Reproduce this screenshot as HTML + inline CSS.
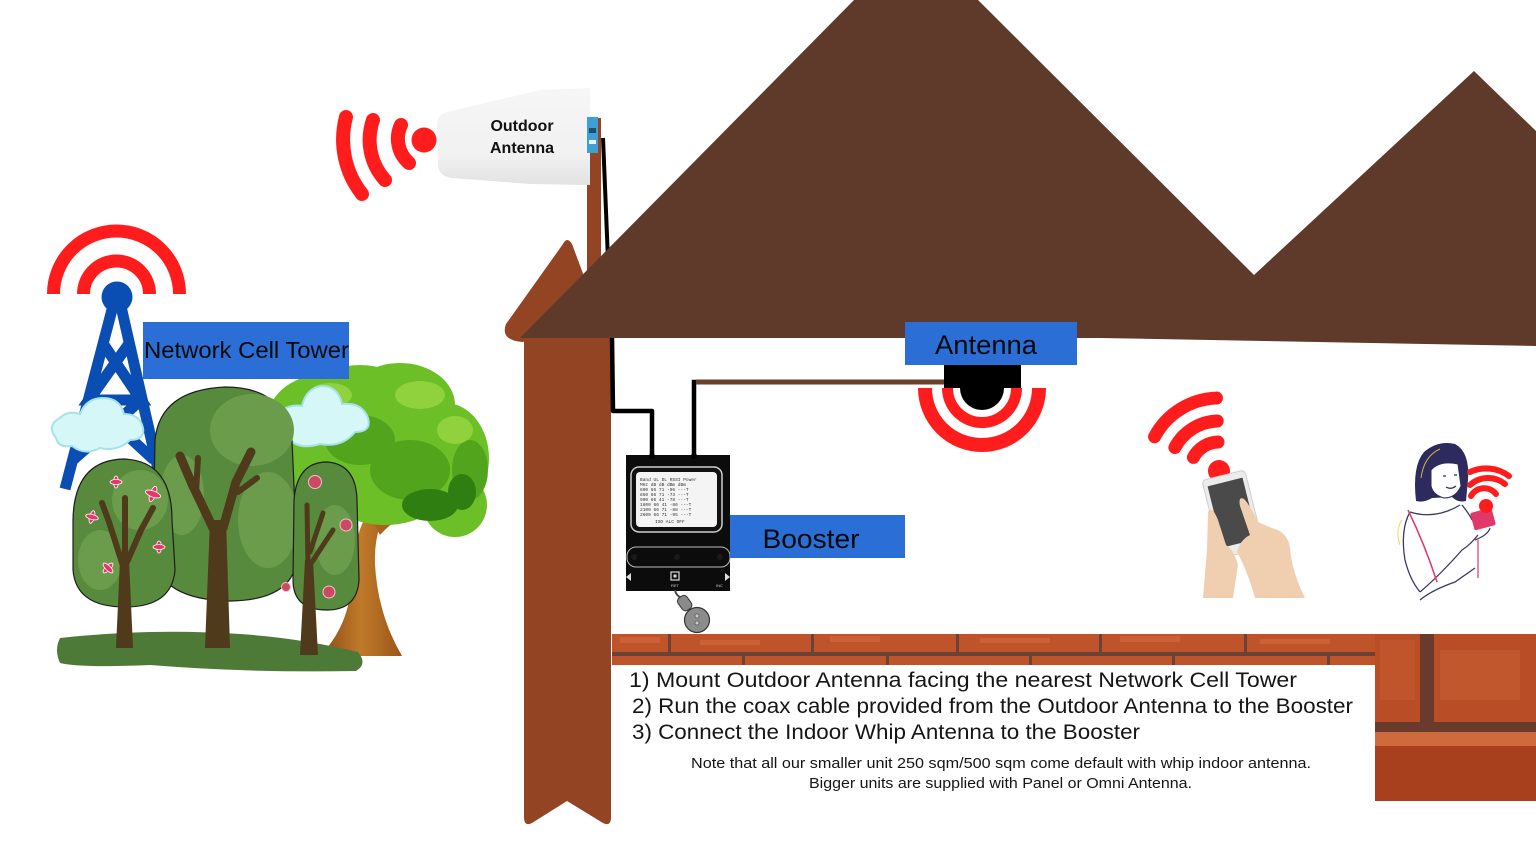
<!DOCTYPE html>
<html><head><meta charset="utf-8">
<style>
html,body{margin:0;padding:0;background:#fff;width:1536px;height:864px;overflow:hidden}
svg{display:block}
</style>
</head><body>
<svg width="1536" height="864" viewBox="0 0 1536 864" xmlns="http://www.w3.org/2000/svg">
<defs>
<linearGradient id="ant" x1="0" y1="0" x2="0" y2="1">
<stop offset="0" stop-color="#f6f6f6"/><stop offset="0.7" stop-color="#f1f1f1"/><stop offset="1" stop-color="#e2e2e2"/>
</linearGradient>
<linearGradient id="trunk" x1="0" y1="0" x2="1" y2="0">
<stop offset="0" stop-color="#8a4a14"/><stop offset="0.5" stop-color="#c07a2a"/><stop offset="1" stop-color="#9a5618"/>
</linearGradient>
</defs>

<!-- ============ CELL TOWER ============ -->
<g fill="none" stroke="#ff1c1c" stroke-width="13">
<path d="M53.5,294 A63,63 0 0 1 179.5,294"/>
<path d="M83.5,294 A33,33 0 0 1 149.5,294"/>
</g>
<g stroke="#0a4db3" stroke-width="11" stroke-linecap="butt" fill="none">
<path d="M114,302 L65,489"/>
<path d="M120,302 L160,478"/>
<path d="M104,345 L141,400 L89,400 L128,345"/>
<path d="M89,400 L154,460 M141,400 L73,460"/>
</g>
<circle cx="117" cy="297" r="15.5" fill="#0a4db3"/>

<!-- big realistic tree -->
<path d="M320,656 Q345,630 350,595 L356,545 Q360,522 372,508 L395,488 L402,494 L382,520 Q374,540 375,565 Q378,615 402,656 Z" fill="url(#trunk)"/>
<path d="M372,520 Q395,505 420,498 L445,492 L447,498 L420,508 Q395,518 380,535 Z" fill="#a8621e"/>
<g fill="#6cbf26">
<ellipse cx="330" cy="418" rx="62" ry="45"/>
<ellipse cx="400" cy="405" rx="55" ry="42"/>
<ellipse cx="445" cy="458" rx="44" ry="55"/>
<ellipse cx="385" cy="470" rx="72" ry="55"/>
<ellipse cx="300" cy="470" rx="38" ry="40"/>
<ellipse cx="455" cy="505" rx="32" ry="32"/>
<ellipse cx="360" cy="385" rx="40" ry="20"/>
</g>
<g fill="#52a41c">
<ellipse cx="410" cy="470" rx="40" ry="30"/>
<ellipse cx="360" cy="440" rx="35" ry="25"/>
<ellipse cx="470" cy="470" rx="18" ry="30"/>
<ellipse cx="320" cy="500" rx="25" ry="18"/>
</g>
<g fill="#2f7e12">
<ellipse cx="430" cy="505" rx="28" ry="16"/>
<ellipse cx="462" cy="492" rx="14" ry="18"/>
</g>
<g fill="#8fd23e">
<ellipse cx="420" cy="395" rx="25" ry="14"/>
<ellipse cx="455" cy="430" rx="18" ry="14"/>
<ellipse cx="330" cy="395" rx="22" ry="12"/>
</g>

<!-- clouds -->
<g fill="#d6f7f8" stroke="#a5e2ea" stroke-width="2">
<path d="M56,438 Q46,425 60,418 Q68,410 80,414 Q86,398 103,398 Q120,398 124,414 Q140,414 143,428 Q145,440 130,440 Q118,452 100,448 Q85,456 72,446 Q58,448 56,438 Z"/>
<path d="M276,428 Q268,415 282,410 Q292,404 302,406 Q306,388 322,386 Q338,386 342,404 Q362,402 368,418 Q372,432 355,432 Q342,448 320,444 Q300,450 290,440 Q276,442 276,428 Z"/>
</g>

<!-- ground -->
<path d="M60,638 Q150,628 240,634 Q300,638 358,652 Q368,664 356,671 Q250,673 150,665 Q80,668 60,663 Q54,650 60,638 Z" fill="#4e7a38"/>

<!-- tree B -->
<path d="M155,440 Q160,390 225,387 Q285,387 292,440 L297,555 Q296,600 230,601 Q160,600 153,555 Z" fill="#578a3c" stroke="#1e1e1e" stroke-width="1.2"/>
<g fill="#6a9c4c">
<ellipse cx="252" cy="430" rx="42" ry="36"/>
<ellipse cx="268" cy="520" rx="30" ry="48"/>
<ellipse cx="182" cy="495" rx="22" ry="40"/>
</g>
<!-- tree A -->
<path d="M73,520 Q74,460 124,459 Q172,461 172,520 L175,570 Q172,607 125,607 Q76,607 73,570 Z" fill="#578a3c" stroke="#1e1e1e" stroke-width="1.2"/>
<g fill="#6a9c4c">
<ellipse cx="140" cy="500" rx="28" ry="30"/>
<ellipse cx="100" cy="560" rx="22" ry="30"/>
</g>
<!-- tree C -->
<path d="M294,500 Q297,462 327,462 Q356,464 357,500 L359,580 Q357,610 327,610 Q293,610 293,580 Z" fill="#578a3c" stroke="#1e1e1e" stroke-width="1.2"/>
<ellipse cx="335" cy="540" rx="20" ry="35" fill="#6a9c4c"/>

<!-- trunks -->
<g fill="#4f3a1b">
<path d="M205,648 L230,648 L226,520 L210,520 Z"/>
<path d="M116,648 L133,648 L129,560 L120,560 Z"/>
<path d="M300,655 L318,655 L313,560 L305,560 Z"/>
</g>
<g fill="none" stroke="#4f3a1b" stroke-linecap="round" stroke-linejoin="round">
<path d="M213,528 L192,484 L180,456" stroke-width="9"/>
<path d="M196,492 L198,458" stroke-width="6"/>
<path d="M223,528 L236,482 L251,452" stroke-width="9"/>
<path d="M238,492 L257,478" stroke-width="6"/>
<path d="M123,566 L109,522 L102,503" stroke-width="6"/>
<path d="M125,562 L125,498" stroke-width="6"/>
<path d="M127,562 L141,530 L153,508" stroke-width="6"/>
<path d="M308,566 L307,505" stroke-width="5"/>
<path d="M310,552 L323,513" stroke-width="5"/>
<path d="M312,562 L333,530" stroke-width="5"/>
</g>

<!-- flowers tree A -->
<g fill="#e8356a" stroke="#fff" stroke-width="0.8">
<g transform="translate(116,482)"><ellipse rx="2.5" ry="6"/><ellipse rx="6" ry="2.5"/></g>
<g transform="translate(153,494) rotate(20)"><ellipse rx="3" ry="8"/><ellipse rx="8" ry="3"/></g>
<g transform="translate(92,517) rotate(15)"><ellipse rx="2.5" ry="6.5"/><ellipse rx="6.5" ry="2.5"/></g>
<g transform="translate(159,547)"><ellipse rx="2.5" ry="6"/><ellipse rx="6" ry="2.5"/></g>
<g transform="translate(108,568) rotate(45)"><ellipse rx="2.5" ry="6.5"/><ellipse rx="6.5" ry="2.5"/></g>
</g>
<g fill="#c94a62" stroke="#f4c0cc" stroke-width="1">
<circle cx="315" cy="482" r="6.5"/>
<circle cx="346" cy="525" r="6"/>
<circle cx="286" cy="587" r="4.5"/>
<circle cx="329" cy="592" r="6"/>
</g>

<!-- Network cell tower label -->
<rect x="143" y="322" width="206" height="57" fill="#2b6ed6"/>
<text x="144" y="358" font-family="Liberation Sans, sans-serif" font-size="23" fill="#0a0a0a" textLength="205" lengthAdjust="spacingAndGlyphs">Network Cell Tower</text>

<!-- ============ HOUSE ============ -->
<rect x="587" y="118" width="14" height="160" fill="#934423"/>
<path d="M603,138 L608,260" stroke="#000" stroke-width="4" fill="none"/>
<path d="M563,244 Q567,236 572,244 L604,330 L522,342 Q500,340 506,324 Z" fill="#934423"/>
<path d="M520,338 L854,0 L978,0 L1254,275 L1474,71 L1536,131 L1536,346 L1100,338 Z" fill="#5f3a2a"/>
<path d="M524,338 L611,338 L611,817 Q611,827 603,823 L567,801 L532,823 Q524,827 524,817 Z" fill="#934423"/>

<!-- cables -->
<path d="M612,338 L613,411 L652,411 L652,455" stroke="#000" stroke-width="4.5" fill="none" stroke-linejoin="round"/>
<path d="M694,455 L694,382 L946,382" stroke="#000" stroke-width="4.5" fill="none"/>
<path d="M696,382 L946,382" stroke="#6a3f2c" stroke-width="5" fill="none"/>

<!-- outdoor antenna -->
<path d="M447,112 Q437,114 437,126 L438,166 Q439,176 452,178 L530,184 L590,185 L590,88 L540,90 Z" fill="url(#ant)"/>
<rect x="587" y="117" width="11" height="36" fill="#3d9fd6"/>
<rect x="589" y="128" width="7" height="5" fill="#1f4f6a"/>
<rect x="589" y="140" width="7" height="4" fill="#e8f4fa"/>
<text x="522" y="131" text-anchor="middle" font-family="Liberation Sans, sans-serif" font-weight="bold" font-size="16" fill="#111">Outdoor</text>
<text x="522" y="153" text-anchor="middle" font-family="Liberation Sans, sans-serif" font-weight="bold" font-size="16" fill="#111">Antenna</text>
<g fill="none" stroke="#ff1c1c" stroke-width="14" stroke-linecap="round">
<path d="M346,117 A88,88 0 0 0 362,194"/>
<path d="M373,120 A60,60 0 0 0 385,180"/>
<path d="M401,125 A32,32 0 0 0 409,163"/>
</g>
<circle cx="424" cy="140" r="12.5" fill="#ff1c1c"/>

<!-- indoor antenna -->
<rect x="905" y="322" width="172" height="43" fill="#2b6ed6"/>
<text x="986" y="354" text-anchor="middle" font-family="Liberation Sans, sans-serif" font-size="27" fill="#0a0a0a" textLength="102" lengthAdjust="spacingAndGlyphs">Antenna</text>
<rect x="944" y="365" width="77" height="23" fill="#000"/>
<path d="M960,388 A22,22 0 0 0 1004,388 Z" fill="#000"/>
<g fill="none" stroke="#ff1c1c">
<path d="M925,388 A57,57 0 0 0 1039,388" stroke-width="14"/>
<path d="M947.5,388 A34.5,34.5 0 0 0 1016.5,388" stroke-width="11"/>
</g>

<!-- booster -->
<rect x="626" y="455" width="104" height="136" fill="#0c0c0c"/>
<circle cx="652" cy="456" r="3" fill="#000"/>
<circle cx="694" cy="456" r="3" fill="#000"/>
<rect x="631" y="467" width="91" height="65" rx="8" fill="#111" stroke="#cfcfcf" stroke-width="1.5"/>
<rect x="636" y="472" width="81" height="55" rx="4" fill="#f4f4f4"/>
<g font-family="Liberation Mono, monospace" font-size="4.5" fill="#333">
<text x="640" y="481">Band UL DL RSSI Power</text>
<text x="640" y="486">MHz dB dB dBm  dBm</text>
<text x="640" y="491">600  66 71 -96  ---T</text>
<text x="640" y="496">850  66 71 -73  ---T</text>
<text x="640" y="501">900  66 41 -78  ---T</text>
<text x="640" y="506">1800 66 41 -86  ---T</text>
<text x="640" y="511">2100 66 71 -88  ---T</text>
<text x="640" y="516">2600 66 71 -95  ---T</text>
<text x="655" y="523">ISO  ALC  OFF</text>
</g>
<rect x="627" y="547" width="103" height="20" rx="9" fill="#0c0c0c" stroke="#bdbdbd" stroke-width="1"/>
<circle cx="634" cy="557" r="3" fill="#1a1a1a"/><circle cx="677" cy="557" r="3" fill="#1a1a1a"/><circle cx="720" cy="557" r="3" fill="#1a1a1a"/>
<rect x="671" y="572" width="8" height="8" fill="none" stroke="#ddd" stroke-width="1.2"/>
<rect x="673.5" y="574.5" width="3" height="3" fill="#ddd"/>
<path d="M626,577 L631,573 L631,581 Z M725,573 L730,577 L725,581 Z" fill="#ddd"/>
<g font-family="Liberation Sans, sans-serif" font-size="4" fill="#ccc"><text x="671" y="587">RET</text><text x="716" y="587">INC</text></g>
<path d="M675,590 Q676,596 682,598" stroke="#444" stroke-width="2" fill="none"/>
<rect x="679" y="596" width="11" height="15" rx="4" fill="#8a8a8a" stroke="#333" stroke-width="1" transform="rotate(-35 684 603)"/>
<circle cx="697" cy="620" r="12.5" fill="#8c8c8c" stroke="#333" stroke-width="1.2"/>
<circle cx="697" cy="616" r="2" fill="#ccc" stroke="#333" stroke-width="0.6"/>
<circle cx="697" cy="623" r="2" fill="#ccc" stroke="#333" stroke-width="0.6"/>
<rect x="730" y="515" width="175" height="43" fill="#2b6ed6"/>
<text x="811" y="548" text-anchor="middle" font-family="Liberation Sans, sans-serif" font-size="27" fill="#0a0a0a" textLength="97" lengthAdjust="spacingAndGlyphs">Booster</text>

<!-- phone hand wifi -->
<g transform="rotate(-32 1219 471)" fill="none" stroke="#ff1c1c" stroke-width="13" stroke-linecap="round">
<path d="M1204.5,445.9 A29,29 0 0 1 1233.5,445.9"/>
<path d="M1194,427.7 A50,50 0 0 1 1244,427.7"/>
<path d="M1182.5,407.8 A73,73 0 0 1 1255.5,407.8"/>
</g>
<circle cx="1219" cy="471" r="11" fill="#ff1c1c"/>
<g transform="rotate(-14 1233 514)">
<rect x="1211" y="474" width="44" height="80" rx="4" fill="#ececec" stroke="#cfcfcf" stroke-width="1"/>
<rect x="1215" y="481" width="36" height="63" fill="#4a4a4a"/>
</g>
<path d="M1203,598 L1233,598 L1238,565 Q1234,550 1226,545 L1218,520 Q1212,505 1208,512 L1207,550 Z" fill="#f0cfb1"/>
<path d="M1255,598 L1305,598 Q1292,572 1290,548 Q1288,532 1272,528 L1258,522 Q1250,505 1244,499 Q1238,496 1240,506 L1250,535 Q1240,540 1237,552 Q1247,570 1255,598 Z" fill="#f0cfb1"/>

<!-- woman -->
<path d="M1416,501 Q1412,466 1424,452 Q1438,440 1455,444 Q1470,452 1468,480 L1466,501 Q1458,503 1452,497 L1432,498 Q1424,503 1416,501 Z" fill="#2d2b5e"/>
<path d="M1431,470 Q1440,460 1458,464 L1461,486 Q1456,498 1444,498 Q1433,495 1431,486 Z" fill="#fff" stroke="#2d2b5e" stroke-width="1"/>
<path d="M1443,476 L1446,476 M1454,475 L1457,475 M1446,487 Q1451,490 1456,486" stroke="#2d2b5e" stroke-width="1.3" fill="none"/>
<path d="M1421,478 Q1424,456 1440,449" stroke="#c8b640" stroke-width="1" fill="none"/>
<g fill="none" stroke="#3a3868" stroke-width="1.3">
<path d="M1410,512 Q1435,520 1460,505"/>
<path d="M1410,512 Q1400,530 1405,560 Q1410,580 1420,592"/>
<path d="M1420,592 Q1440,575 1462,550 Q1470,545 1478,535"/>
<path d="M1420,600 Q1432,590 1455,582 Q1465,575 1475,568"/>
<path d="M1462,505 Q1470,515 1472,520"/>
<path d="M1475,540 Q1488,535 1490,528"/>
</g>
<path d="M1408,510 Q1425,545 1437,582" stroke="#e0386a" stroke-width="1.5" fill="none"/>
<path d="M1478,540 L1478,578" stroke="#e0386a" stroke-width="1.2" fill="none"/>
<path d="M1402,520 Q1395,530 1400,545" stroke="#f0e060" stroke-width="1.2" fill="none"/>
<rect x="1472" y="510" width="22" height="18" rx="2" fill="#e0386a" transform="rotate(-15 1483 519)"/>
<g fill="none" stroke="#ff1c1c" stroke-width="6" stroke-linecap="round">
<path d="M1471,496 A15,15 0 0 1 1496,494"/>
<path d="M1470,485 A27,27 0 0 1 1505,484"/>
<path d="M1470,472 A38,38 0 0 1 1509,476"/>
</g>
<circle cx="1486" cy="506" r="7" fill="#ff1c1c"/>

<!-- ============ BRICKS ============ -->
<rect x="612" y="634" width="764" height="31" fill="#bf532a"/>
<g fill="#d1683a" opacity="0.7">
<rect x="620" y="637" width="40" height="6"/><rect x="700" y="640" width="60" height="5"/><rect x="830" y="636" width="50" height="6"/>
<rect x="980" y="638" width="70" height="5"/><rect x="1120" y="636" width="60" height="6"/><rect x="1260" y="639" width="70" height="5"/>
</g>
<rect x="612" y="652" width="764" height="4" fill="#6a4236"/>
<g fill="#6a4236">
<rect x="668" y="634" width="3" height="18"/><rect x="811" y="634" width="3" height="18"/><rect x="956" y="634" width="3" height="18"/>
<rect x="1099" y="634" width="3" height="18"/><rect x="1244" y="634" width="3" height="18"/>
<rect x="742" y="656" width="3" height="9"/><rect x="886" y="656" width="3" height="9"/><rect x="1029" y="656" width="3" height="9"/>
<rect x="1172" y="656" width="3" height="9"/><rect x="1327" y="656" width="3" height="9"/>
</g>
<rect x="1375" y="634" width="161" height="167" fill="#b84d26"/>
<rect x="1380" y="640" width="35" height="60" fill="#c45a2e" opacity="0.6"/>
<rect x="1440" y="650" width="80" height="50" fill="#c86234" opacity="0.5"/>
<rect x="1420" y="634" width="14" height="88" fill="#6a3a2c"/>
<rect x="1375" y="722" width="161" height="10" fill="#6a3a2c"/>
<rect x="1375" y="732" width="161" height="14" fill="#cf6a3c"/>
<rect x="1375" y="746" width="161" height="55" fill="#a8401e"/>

<!-- instruction text -->
<g font-family="Liberation Sans, sans-serif" fill="#151515">
<text x="629" y="687" font-size="21" textLength="668" lengthAdjust="spacingAndGlyphs">1) Mount Outdoor Antenna facing the nearest Network Cell Tower</text>
<text x="632" y="713" font-size="21" textLength="721" lengthAdjust="spacingAndGlyphs">2) Run the coax cable provided from the Outdoor Antenna to the Booster</text>
<text x="632" y="739" font-size="21" textLength="508" lengthAdjust="spacingAndGlyphs">3) Connect the Indoor Whip Antenna to the Booster</text>
<text x="691" y="768" font-size="15" textLength="620" lengthAdjust="spacingAndGlyphs">Note that all our smaller unit 250 sqm/500 sqm come default with whip indoor antenna.</text>
<text x="809" y="788" font-size="15" textLength="383" lengthAdjust="spacingAndGlyphs">Bigger units are supplied with Panel or Omni Antenna.</text>
</g>
</svg>
</body></html>
